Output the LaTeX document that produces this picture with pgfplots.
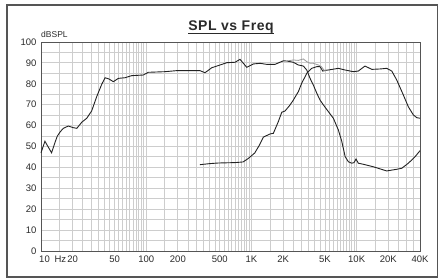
\documentclass[border=0pt]{standalone}
\usepackage{pgfplots}
\pgfplotsset{compat=1.18}
\usepackage{fontspec}
\setmainfont{Liberation Sans}
\definecolor{gridc}{HTML}{CDCDCD}
\definecolor{axc}{HTML}{555555}
\definecolor{txt}{HTML}{2A2A2A}
\definecolor{crv}{HTML}{222222}
\definecolor{sumc}{HTML}{9A9A9A}
\begin{document}
\begin{tikzpicture}[x=1pt,y=1pt]
\useasboundingbox (0,0) rectangle (438,278);
\draw[color=axc,line width=1.3pt] (7,1) rectangle (437.5,273);
\node[anchor=base,font=\bfseries\fontsize{14}{15}\selectfont\addfontfeature{LetterSpace=4},text=txt,inner sep=0pt] (t) at (231,247) {SPL vs Freq};
\draw[txt,line width=0.9pt] ([yshift=-2.3pt]t.base west) -- ([yshift=-2.3pt]t.base east);
\begin{axis}[
  at={(41pt,27pt)}, anchor=south west,
  scale only axis, width=379pt, height=209pt,
  xmode=log, log basis x=10,
  xmin=10, xmax=40000, ymin=0, ymax=100,
  xtick={20,50,100,200,500,1000,2000,5000,10000,20000,40000},
  xticklabels={20,50,100,200,500,1K,2K,5K,10K,20K,40K},
  extra x ticks={10.8,15.3},
  extra x tick labels={10,Hz},
  extra x tick style={grid=none},
  minor xtick={15,20,25,30,35,40,45,50,55,60,65,70,75,80,85,90,95,
    150,200,250,300,350,400,450,500,550,600,650,700,750,800,850,900,950,
    1500,2000,2500,3000,3500,4000,4500,5000,5500,6000,6500,7000,7500,8000,8500,9000,9500,
    15000,20000,25000,30000,35000},
  ytick={0,10,...,100},
  minor ytick={5,15,...,95},
  grid=both,
  major grid style={color=gridc,line width=0.9pt},
  minor grid style={color=gridc,line width=0.9pt},
  major tick length=0pt, minor tick length=0pt,
  axis line style={color=axc,line width=0.9pt},
  tick label style={font=\fontsize{9.5}{10}\selectfont,text=txt},
  /pgf/number format/assume math mode=true,
  yticklabel style={xshift=-1pt},
  xticklabel style={yshift=-1pt},
  clip=false,
]
\addplot[crv,line width=0.9pt] table {
10 47
10.9 52.5
12.6 47
13.6 52
14.3 55
15.2 57
16.3 58.7
18.2 59.8
20.3 59
21.9 58.7
24.4 61.6
27.2 63.5
30.3 67
33.8 73.8
37.8 79.8
40.6 82.9
44.3 82.3
48.7 81
54.3 82.6
62.8 82.9
72.8 83.9
93.8 84.2
104.7 85.5
151 85.8
195 86.3
261 86.3
324 86.3
362 85.3
420 87.7
503 89
583 90.1
698 90.3
779 91.7
902 87.9
1043 89.5
1208 89.8
1397 89.3
1675 89.3
2010 91
2167 90.9
2500 90.3
2790 89
3113 88.5
3355 86.6
3607 82.6
3876 79.4
4177 75.5
4490 72.2
4826 69.9
5384 66.7
6010 63.5
6700 57.9
7215 52.5
7780 45.1
8346 42.7
8985 42
9440 42.3
9860 44
10370 42
11570 41.5
14410 40.3
17930 38.8
19310 38.3
24050 39.1
26850 39.6
30990 42
35890 45.1
40000 48
};
\addplot[crv,line width=0.9pt] table {
324 41.3
400 41.8
482 42.1
700 42.3
832 42.6
929 44.2
1075 46.9
1198 50.9
1297 54.5
1503 56
1615 56.3
1801 61.9
1942 66.4
2086 67
2330 69.9
2500 72.2
2790 76.2
3000 80.2
3355 85
3744 87.4
4177 88.2
4490 88.2
4760 86.1
5384 86.6
6700 87.4
7760 86.6
9310 85.8
10370 86.1
12010 88.5
13920 86.9
16690 87.1
19310 87.4
21560 86.1
24050 81.8
27800 74.6
30990 69
34580 65.1
37240 63.8
40000 63.5
};
\addplot[sumc,line width=0.8pt] table {
2167 90.9
2500 91.4
2790 91.2
3113 91.9
3355 90.6
3607 89.8
3876 89.8
4330 89
4620 88.2
4900 86.5
5384 86.6
};
\node[anchor=base west,font=\fontsize{8.5}{9}\selectfont,text=txt,inner sep=0pt] at (rel axis cs:0,1) [yshift=4pt] {dBSPL};
\end{axis}
\end{tikzpicture}
\end{document}
